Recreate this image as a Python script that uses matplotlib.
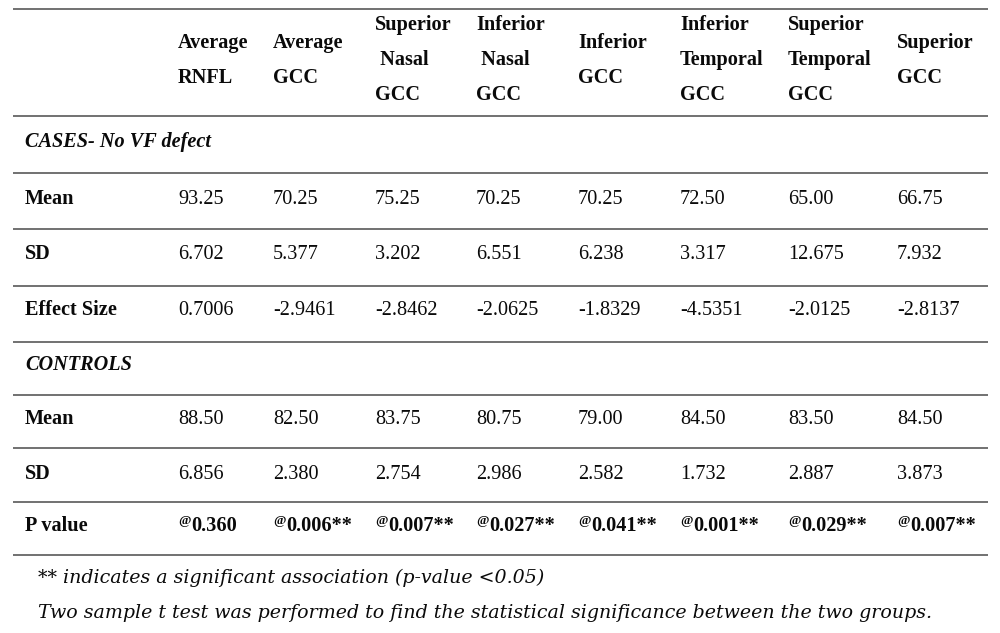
import matplotlib
matplotlib.use("Agg")
import matplotlib.pyplot as plt

# ---------------- data ----------------
header_lines = [
    ["Average", "RNFL"],
    ["Average", "GCC"],
    ["Superior", " Nasal", "GCC"],
    ["Inferior", " Nasal", "GCC"],
    ["Inferior", "GCC"],
    ["Inferior", "Temporal", "GCC"],
    ["Superior", "Temporal", "GCC"],
    ["Superior", "GCC"],
]
cases_mean = [93.25, 70.25, 75.25, 70.25, 70.25, 72.50, 65.00, 66.75]
cases_sd = [6.702, 5.377, 3.202, 6.551, 6.238, 3.317, 12.675, 7.932]
effect_size = [0.7006, -2.9461, -2.8462, -2.0625, -1.8329, -4.5351, -2.0125, -2.8137]
controls_mean = [88.50, 82.50, 83.75, 80.75, 79.00, 84.50, 83.50, 84.50]
controls_sd = [6.856, 2.380, 2.754, 2.986, 2.582, 1.732, 2.887, 3.873]
p_values = [0.360, 0.006, 0.007, 0.027, 0.041, 0.001, 0.029, 0.007]
p_signif = [False, True, True, True, True, True, True, True]
group_labels = ["CASES- No VF defect", "CONTROLS"]
row_labels = ["Mean", "SD", "Effect Size", "Mean", "SD", "P value"]
footnotes = ["** indicates a significant association (p-value <0.05)",
             "Two sample t test was performed to find the statistical significance between the two groups."]

# ---------------- layout ----------------
W, H = 1000, 633
fig = plt.figure(figsize=(W / 100, H / 100), dpi=100)
ax = fig.add_axes([0, 0, 1, 1])
ax.set_xlim(0, W)
ax.set_ylim(H, 0)
ax.axis("off")

FONT = "Liberation Serif"
FS = 14.6
TXT = "#0a0a0a"
LINE = "#4a4a4a"

col_x = [178, 273, 375, 476, 578, 680, 788, 897]
label_x = 25
hlines = [9, 116, 173, 229, 286, 342, 395, 448, 502, 555]
for y in hlines:
    ax.plot([13, 988], [y, y], color=LINE, lw=1.1, solid_capstyle="butt")

# header
for x, lines in zip(col_x, header_lines):
    bases = [48, 83] if len(lines) == 2 else [30, 65, 100]
    for txt, b in zip(lines, bases):
        ax.text(x, b, txt, fontsize=FS, fontweight="bold", family=FONT,
                color=TXT, va="baseline", ha="left")

# group labels
for txt, b in zip(group_labels, [147, 370]):
    ax.text(label_x, b, txt, fontsize=FS, fontweight="bold", style="italic",
            family=FONT, color=TXT, va="baseline", ha="left")

# row labels
row_bases = [204, 259, 315, 424, 479, 531]
for txt, b in zip(row_labels, row_bases):
    ax.text(label_x, b, txt, fontsize=FS, fontweight="bold", family=FONT,
            color=TXT, va="baseline", ha="left")

rows = [
    [f"{v:.2f}" for v in cases_mean],
    [f"{v:.3f}" for v in cases_sd],
    [f"{v:.4f}" for v in effect_size],
    [f"{v:.2f}" for v in controls_mean],
    [f"{v:.3f}" for v in controls_sd],
]
for vals, b in zip(rows, row_bases[:5]):
    for x, v in zip(col_x, vals):
        ax.text(x, b, v, fontsize=FS, family=FONT, color=TXT,
                va="baseline", ha="left")

# p values with superscript @
fig.canvas.draw()
renderer = fig.canvas.get_renderer()
for x, p, s in zip(col_x, p_values, p_signif):
    at = ax.text(x, 524, "@", fontsize=9.5, fontweight="bold", family=FONT,
                 color=TXT, va="baseline", ha="left")
    w = at.get_window_extent(renderer=renderer).width
    label = f"{p:.3f}" + ("**" if s else "")
    ax.text(x + w + 0.5, 531, label, fontsize=FS, fontweight="bold", family=FONT,
            color=TXT, va="baseline", ha="left")

# footnotes (fit the long line to the reference span)
FN_FONT = "DejaVu Serif"
probe = ax.text(38, 618, footnotes[1], fontsize=13, style="italic",
                family=FN_FONT, color=TXT, va="baseline", ha="left")
pw = probe.get_window_extent(renderer=renderer).width
fn_size = 13 * 895 / pw
probe.remove()
for txt, b in zip(footnotes, [583, 618]):
    ax.text(38, b, txt, fontsize=fn_size, style="italic", family=FN_FONT,
            color=TXT, va="baseline", ha="left")

fig.savefig("out.png", dpi=100, facecolor="white")
